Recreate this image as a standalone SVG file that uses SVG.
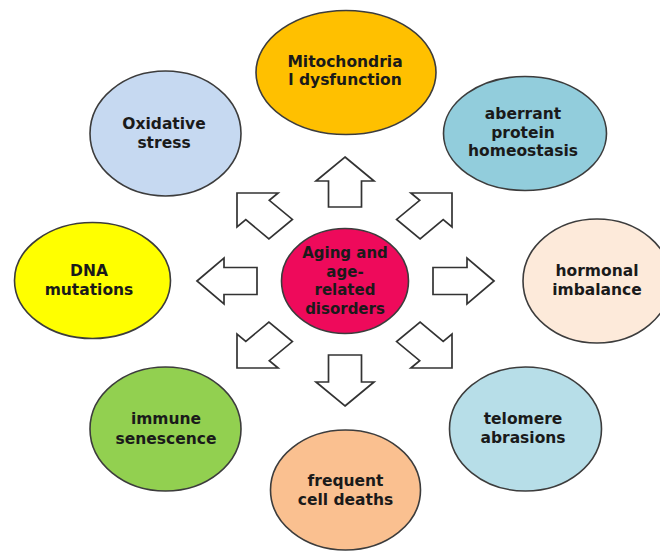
<svg xmlns="http://www.w3.org/2000/svg" width="660" height="552" viewBox="0 0 660 552">
<style>
.n{stroke:#3c3c3c;stroke-width:1.6}
.t{font-family:"DejaVu Sans",Verdana,sans-serif;font-weight:bold;font-size:15.5px;fill:#1a1a1a;text-anchor:middle}
.c{font-size:15px}
.a{fill:#ffffff;stroke:#333333;stroke-width:1.7;stroke-linejoin:miter}
</style>
<rect width="660" height="552" fill="#ffffff"/>
<g id="connectors">
<polygon class="a" points="345,157 374,181 361.5,181 361.5,207 328.5,207 328.5,181 316,181"/>
<polygon class="a" points="345,406 374,382 361.5,382 361.5,355 328.5,355 328.5,382 316,382"/>
<polygon class="a" points="197,281 224,258 224,267.5 257,267.5 257,294.5 224,294.5 224,304"/>
<polygon class="a" points="494,281 467,258 467,267.5 433,267.5 433,294.5 467,294.5 467,304"/>
<polygon class="a" points="237,193 278.1,193 269.3,200.3 292.4,219.4 268.9,238.8 245.8,219.7 237,226.9"/>
<polygon class="a" points="452,193 410.9,193 419.7,200.3 396.6,219.4 420.1,238.8 443.2,219.7 452,226.9"/>
<polygon class="a" points="237,368 278.1,368 269.3,360.7 292.4,341.6 268.9,322.2 245.8,341.3 237,334.1"/>
<polygon class="a" points="452,368 410.9,368 419.7,360.7 396.6,341.6 420.1,322.2 443.2,341.3 452,334.1"/>
</g>
<g id="center">
<ellipse class="n" cx="345" cy="281" rx="63.5" ry="52.5" fill="#EE0A5B"/>
<text class="t c" x="345" y="258">Aging and</text>
<text class="t c" x="345" y="276.5">age-</text>
<text class="t c" x="345" y="295">related</text>
<text class="t c" x="345" y="313.5">disorders</text>
</g>
<g id="mitochondrial">
<ellipse class="n" cx="346" cy="72.5" rx="90" ry="62" fill="#FFC000"/>
<text class="t" x="345" y="67">Mitochondria</text>
<text class="t" x="345" y="85">l dysfunction</text>
</g>
<g id="oxidative">
<ellipse class="n" cx="165.5" cy="133.5" rx="75.5" ry="62.5" fill="#C6D9F1"/>
<text class="t" x="164" y="129">Oxidative</text>
<text class="t" x="164" y="148">stress</text>
</g>
<g id="aberrant">
<ellipse class="n" cx="525" cy="133.5" rx="81.5" ry="57" fill="#92CDDC"/>
<text class="t" x="523" y="118.5">aberrant</text>
<text class="t" x="523" y="137.5">protein</text>
<text class="t" x="523" y="156">homeostasis</text>
</g>
<g id="dna">
<ellipse class="n" cx="92.5" cy="280.5" rx="78" ry="58" fill="#FFFF00"/>
<text class="t" x="89" y="276">DNA</text>
<text class="t" x="89" y="295">mutations</text>
</g>
<g id="hormonal">
<ellipse class="n" cx="597" cy="281" rx="74" ry="62" fill="#FDEADA"/>
<text class="t" x="597" y="275.5">hormonal</text>
<text class="t" x="597" y="295">imbalance</text>
</g>
<g id="immune">
<ellipse class="n" cx="165.5" cy="429" rx="75.5" ry="62" fill="#92D050"/>
<text class="t" x="166" y="424">immune</text>
<text class="t" x="166" y="443.5">senescence</text>
</g>
<g id="telomere">
<ellipse class="n" cx="525.5" cy="429" rx="76" ry="62" fill="#B7DEE8"/>
<text class="t" x="523" y="424">telomere</text>
<text class="t" x="523" y="443">abrasions</text>
</g>
<g id="celldeath">
<ellipse class="n" cx="345.5" cy="490" rx="75" ry="60" fill="#FAC090"/>
<text class="t" x="345.5" y="486">frequent</text>
<text class="t" x="345.5" y="505">cell deaths</text>
</g>
</svg>
